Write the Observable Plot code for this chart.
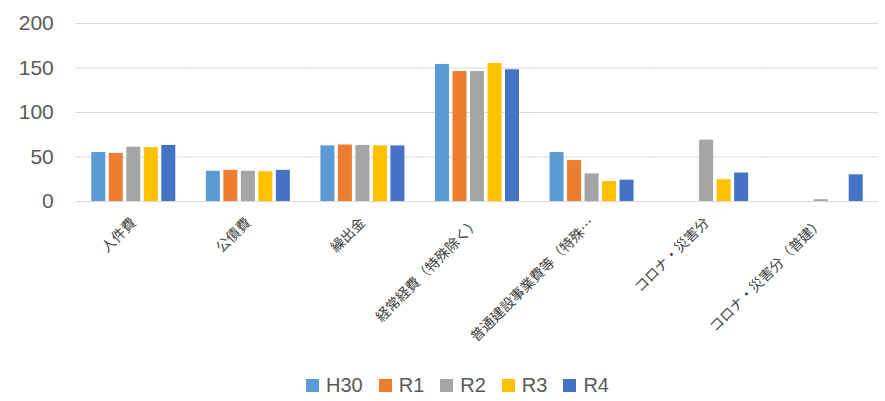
<!DOCTYPE html>
<html>
<head>
<meta charset="utf-8">
<script src="https://cdn.jsdelivr.net/npm/d3@7"></script>
<script src="https://cdn.jsdelivr.net/npm/@observablehq/plot@0.6"></script>
<style>
  body { margin: 0; background: #fff; }
  #chart { width: 885px; }
  .legend { display: flex; justify-content: center; align-items: center; height: 40px; padding-left: 30px;
    font-family: "Liberation Sans", Arial, sans-serif; font-size: 20px; color: #595959; }
  .legend .item { display: flex; align-items: center; margin: 0 8px; }
  .legend .sw { width: 13px; height: 13px; margin-right: 7px; }
</style>
</head>
<body>
<div id="chart"></div>
<script>
const categories = ["人件費", "公債費", "繰出金", "経常経費（特殊除く）", "普通建設事業費等（特殊除く）", "コロナ・災害分", "コロナ・災害分（普建）"];
const tickLabels = ["人件費", "公債費", "繰出金", "経常経費（特殊除く）", "普通建設事業費等（特殊…", "コロナ・災害分", "コロナ・災害分（普建）"];
const series = ["H30", "R1", "R2", "R3", "R4"];
const H30 = [55, 34, 62.5, 154, 55, 0, 0];
const R1  = [54, 35, 63.5, 146, 46, 0, 0];
const R2  = [61, 34, 63, 146, 31, 69, 2];
const R3  = [60.5, 33.5, 62.5, 155, 22.5, 24.5, 0];
const R4  = [63, 35, 62.5, 148, 24, 32, 30];
const colors = ["#5B9BD5", "#ED7D31", "#A5A5A5", "#FFC000", "#4472C4"];
const yTicks = [0, 50, 100, 150, 200];

const seriesValues = [H30, R1, R2, R3, R4];
const data = categories.flatMap((c, i) => series.map((s, j) => ({category: c, series: s, value: seriesValues[j][i]})));
const labelOf = new Map(categories.map((c, i) => [c, tickLabels[i]]));

const W = 885, ML = 76, MR = 7, PADI = 0.267, PADO = 0.1335;
const step = (W - ML - MR) / (categories.length - PADI + 2 * PADO);
const ext = -(step * PADI / 2) - 0.5;

const chart = Plot.plot({
  width: W,
  height: 365,
  marginLeft: ML,
  marginRight: MR,
  marginTop: 23,
  marginBottom: 164,
  style: {fontFamily: "'Noto Sans CJK JP', sans-serif", background: "#fff"},
  fx: {domain: categories, paddingInner: PADI, paddingOuter: PADO, round: false, label: null},
  x: {domain: series, paddingInner: 0.2, paddingOuter: 0, round: false, axis: null},
  y: {domain: [0, 200], label: null},
  color: {domain: series, range: colors},
  marks: [
    Plot.ruleY(yTicks, {stroke: "#D9D9D9", strokeWidth: 1.2, insetLeft: ext, insetRight: ext}),
    Plot.barY(data, {fx: "category", x: "series", y: "value", fill: "series"}),
    Plot.axisY({ticks: yTicks, tickSize: 0, tickPadding: 38, fontSize: 21, fill: "#595959",
      fontFamily: "'Liberation Sans', Arial, sans-serif", label: null}),
    Plot.axisFx({anchor: "bottom", tickRotate: -45, tickSize: 0, tickPadding: 19, fontSize: 14, fill: "#404040",
      textAnchor: "end", tickFormat: d => labelOf.get(d), label: null})
  ]
});
document.getElementById("chart").appendChild(chart);

const legend = document.createElement("div");
legend.className = "legend";
series.forEach((s, i) => {
  const item = document.createElement("div");
  item.className = "item";
  const sw = document.createElement("div");
  sw.className = "sw";
  sw.style.background = colors[i];
  const t = document.createElement("span");
  t.textContent = s;
  item.appendChild(sw); item.appendChild(t);
  legend.appendChild(item);
});
document.getElementById("chart").appendChild(legend);
</script>
</body>
</html>
